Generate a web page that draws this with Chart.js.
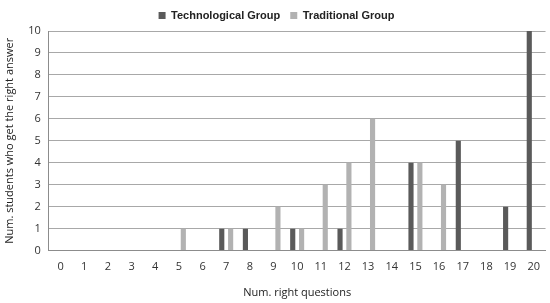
<!DOCTYPE html>
<html>
<head>
<meta charset="utf-8">
<script src="https://cdn.jsdelivr.net/npm/chart.js@4"></script>
<style>
  html, body { margin: 0; padding: 0; background: #fff; }
  #wrap { width: 550px; height: 303px; }
</style>
</head>
<body>
<div id="wrap"><canvas id="myChart"></canvas></div>
<script>
// num. right questions
var questions = ['0','1','2','3','4','5','6','7','8','9','10','11','12','13','14','15','16','17','18','19','20'];
var techGroup = [0,0,0,0,0,0,0,1,1,0,1,0,1,0,0,4,0,5,0,2,10];
var tradGroup = [0,0,0,0,0,1,0,1,0,2,1,3,4,6,0,4,3,0,0,0,0];

const data = {
	labels: questions,
	datasets: [{
		label: 'Technological Group',
		data: techGroup,
		backgroundColor: '#5a5a5a',
		categoryPercentage: 0.75,
		barPercentage: 0.58
	}, {
		label: 'Traditional Group',
		data: tradGroup,
		backgroundColor: '#b2b2b2',
		categoryPercentage: 0.75,
		barPercentage: 0.58
	}]
};

const config = {
	type: 'bar',
	data: data,
	options: {
		responsive: true,
		maintainAspectRatio: false,
		animation: false,
		layout: { padding: { left: 3, right: 0, top: 0, bottom: 4 } },
		plugins: {
			tooltip: { enabled: false },
			legend: {
				position: 'top',
				labels: {
					boxWidth: 7,
					boxHeight: 7,
					padding: 10,
					color: '#222',
					font: { family: 'Liberation Sans', size: 11, weight: 'bold' }
				}
			}
		},
		scales: {
			x: {
				grid: { display: false, drawTicks: false },
				border: { color: '#8c8c8c' },
				ticks: {
					color: '#333',
					padding: 10,
					maxRotation: 0,
					autoSkip: false,
					font: { family: 'Open Sans', size: 11 }
				},
				title: {
					display: true,
					text: 'Num. right questions',
					color: '#222',
					padding: { top: 2, bottom: 0 },
					font: { family: 'Open Sans', size: 11 }
				}
			},
			y: {
				min: 0,
				max: 10,
				grid: { color: '#a8a8a8', drawTicks: false },
				border: { color: '#8c8c8c' },
				ticks: {
					stepSize: 1,
					color: '#333',
					padding: 8,
					font: { family: 'Open Sans', size: 11 }
				},
				title: {
					display: true,
					text: 'Num. students who get the right answer',
					color: '#222',
					padding: { top: 0, bottom: 4 },
					font: { family: 'Open Sans', size: 11 }
				}
			}
		}
	}
};

const myChart = new Chart(
	document.getElementById('myChart').getContext('2d'),
	config
);
</script>
</body>
</html>
